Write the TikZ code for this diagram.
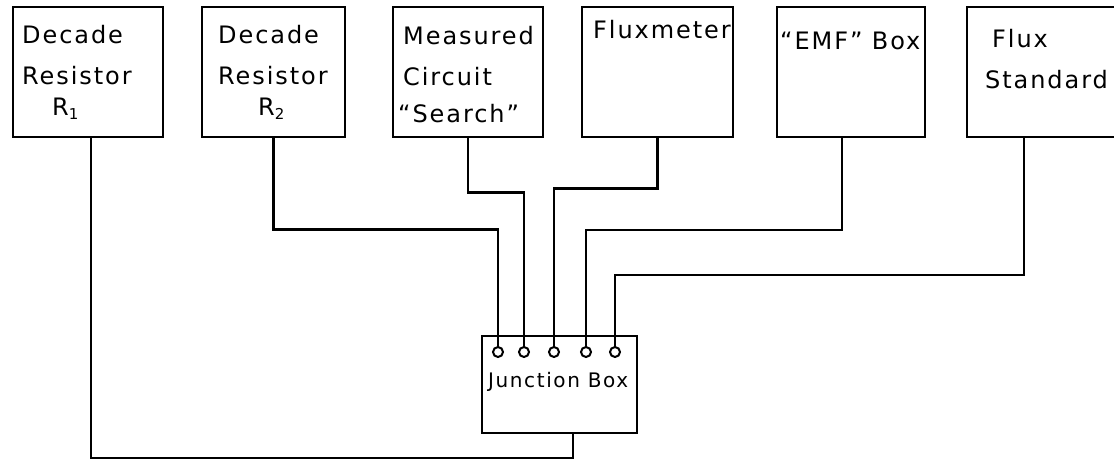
\documentclass[tikz,border=0pt]{standalone}
\usepackage{fontspec}
\newfontfamily\hand[LetterSpace=8]{DejaVu Sans}
\begin{document}
\begin{tikzpicture}[x=1pt,y=-1pt,
  blk/.style={draw, line width=1.5pt, minimum height=130pt, inner sep=0pt},
  wire/.style={line width=2.6pt},
  lbl/.style={anchor=base west, inner sep=0pt, font=\hand\fontsize{24}{24}\selectfont},
  jlbl/.style={anchor=base west, inner sep=0pt, font=\hand\fontsize{20}{20}\selectfont},
  term/.style={draw, circle, line width=2pt, minimum size=10pt, inner sep=0pt}]
\useasboundingbox (0,0) rectangle (1114,464);
% top boxes
\node[blk, minimum width=150pt] (b1) at (88,72) {};
\node[blk, minimum width=143pt] (b2) at (273.5,72) {};
\node[blk, minimum width=150pt] (b3) at (468,72) {};
\node[blk, minimum width=151pt] (b4) at (657.5,72) {};
\node[blk, minimum width=148pt] (b5) at (851,72) {};
\node[blk, minimum width=163pt] (b6) at (1048.5,72) {};
% labels
\node[lbl] (l1a) at (22,43) {Decade};
\node[lbl] (l1b) at (22,84) {Resistor};
\node[lbl] (l1c) at (52,115) {R{\fontsize{15}{15}\selectfont\raisebox{-4pt}{1}}};
\node[lbl] (l2a) at (218,43) {Decade};
\node[lbl] (l2b) at (218,84) {Resistor};
\node[lbl] (l2c) at (258,115) {R{\fontsize{15}{15}\selectfont\raisebox{-4pt}{2}}};
\node[lbl] (l3a) at (403,44) {Measured};
\node[lbl] (l3b) at (403,85) {Circuit};
\node[lbl] (l3c) at (398,122) {“Search”};
\node[lbl] (l4a) at (593,38) {Fluxmeter};
\node[lbl] (l5a) at (780,49) {“EMF” Box};
\node[lbl] (l6a) at (992,47) {Flux};
\node[lbl] (l6b) at (985,88) {Standard};
% junction box
\node[draw, line width=1.5pt, minimum width=155pt, minimum height=97pt, inner sep=0pt] (jb) at (559.5,384.5) {};
\node[jlbl] (jl) at (488,387) {Junction Box};
\node[term] (t1) at (498,352) {};
\node[term] (t2) at (524,352) {};
\node[term] (t3) at (554,352) {};
\node[term] (t4) at (586,352) {};
\node[term] (t5) at (615,352) {};
% stem points
\coordinate (s1) at (91,137);
\coordinate (s5) at (842,137);
\coordinate (s6) at (1024,137);
\coordinate (jo) at (573,458);
% wires
\draw[wire] (b2.south) -- ++(0,92) -| (t1.north);
\draw[wire] (b3.south) -- ++(0,55) -| (t2.north);
\draw[wire] (b4.south) -- ++(0,51) -| (t3.north);
\draw[wire] (s5) -- ++(0,93) -| (t4.north);
\draw[wire] (s6) -- ++(0,138) -| (t5.north);
\draw[wire] (s1) |- (jo) -- (jo |- jb.south);
\end{tikzpicture}
\end{document}
